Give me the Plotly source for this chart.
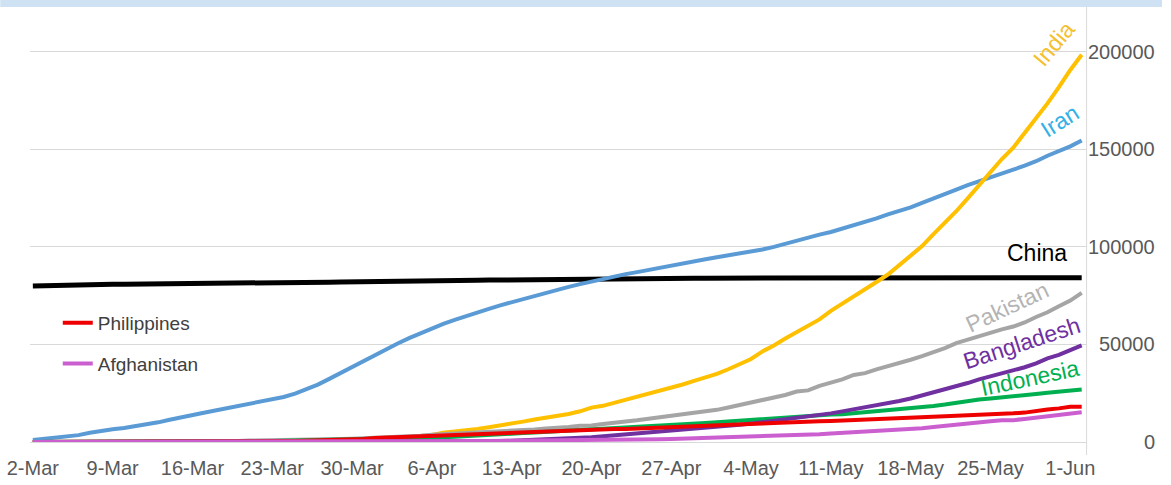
import pandas as pd
import plotly.graph_objects as go

dates = pd.date_range("2020-03-02", "2020-06-02", freq="D")

iran = [978, 1501, 2336, 2922, 3513, 4747, 5823, 6566, 7161, 8042, 9000, 10075, 11364, 12729, 13938, 14991,
        16169, 17361, 18407, 19644, 20610, 21638, 23049, 24811, 27017, 29406, 32332, 35408, 38309, 41495,
        44605, 47593, 50468, 53183, 55743, 58226, 60500, 62589, 64586, 66220, 68192, 70029, 71686, 73303,
        74877, 76389, 77995, 79494, 80868, 82211, 83505, 84802, 85996, 87026, 88194, 89328, 90481, 91472,
        92584, 93657,
        94640, 95646, 96448, 97424, 98647, 99970, 101650, 103135, 104691, 106220, 107603, 109286, 110767,
        112725, 114533, 116635, 118392, 120198, 122492, 124603, 126949, 129341, 131652, 133521, 135701,
        137724, 139511, 141591, 143849, 146668, 148950,
        151466, 154445]

india = [3, 5, 5, 28, 30, 31, 34, 39, 43, 56, 62, 73, 82, 102, 113, 119, 142, 156, 194, 244, 330, 396, 499,
         536, 657, 727, 887, 987, 1024, 1251,
         1397, 1998, 2543, 2567, 3082, 3588, 4778, 5311, 5916, 6725, 7598, 8446, 9205, 10453, 11487, 12322,
         13430, 14352, 15722, 17615, 18539, 20080, 21370, 23077, 24530, 26283, 27890, 29451, 31324, 33062,
         34863, 37257, 39699, 42505, 46437, 49400, 52987, 56351, 59695, 62808, 67161, 70768, 74292, 78055,
         81997, 85784, 90648, 95698, 100328, 106475, 112028, 118226, 124794, 131423, 138536, 144950, 150793,
         158086, 165386, 173491, 181827,
         190609, 198370]

china = [79932, 80136, 80261, 80386, 80537, 80690, 80770, 80823, 80860, 80887, 80921, 80932, 80945, 80977,
         81003, 81033, 81058, 81102, 81156, 81250, 81305, 81435, 81498, 81591, 81661, 81782, 81897, 81999,
         82122, 82198,
         82279, 82361, 82432, 82511, 82543, 82602, 82665, 82718, 82809, 82883, 82941, 83014, 83134, 83213,
         83306, 83356, 83403, 83760, 83787, 83805, 83817, 83853, 83868, 83884, 83899, 83909, 83912, 83918,
         83940, 83944,
         83956, 83959, 83959, 83964, 83966, 83968, 83970, 83975, 83976, 83990, 84010, 84011, 84018, 84024,
         84029, 84038, 84044, 84054, 84063, 84063, 84065, 84076, 84081, 84084, 84095, 84102, 84103, 84106,
         84106, 84123, 84128,
         84146, 84154]

pakistan = [4, 5, 5, 5, 6, 6, 6, 6, 16, 19, 20, 28, 31, 53, 136, 236, 299, 454, 501, 730, 776, 875, 972,
            1063, 1201, 1373, 1495, 1597, 1717, 1938,
            2118, 2421, 2686, 2818, 3157, 3766, 4035, 4263, 4489, 4695, 4934, 5230, 5496, 5837, 6383, 6919,
            7025, 7638, 8348, 8418, 9216, 9749, 10513, 11155, 11940, 12657, 13328, 13915, 14612, 15525,
            16473, 17699, 18926, 20084, 21501, 22550, 24073, 25837, 26435, 28736, 30334, 32081, 34336, 35298,
            37218, 38799, 40151, 42125, 43966, 45898, 48091, 50694, 52437, 54601, 56349, 57705, 59151, 61227,
            64028, 66457, 69496,
            72460, 76398]

bangladesh = [0, 0, 0, 0, 0, 0, 0, 3, 3, 3, 3, 3, 3, 3, 5, 8, 10, 14, 17, 20, 24, 27, 33, 39, 39, 44, 48, 48,
              48, 49,
              51, 54, 56, 61, 70, 88, 123, 164, 218, 330, 424, 482, 621, 803, 1012, 1231, 1572, 1838, 2144,
              2456, 2948, 3382, 3772, 4186, 4689, 4998, 5416, 5913, 6462, 7103,
              7667, 8238, 8790, 9455, 10143, 10929, 11719, 12425, 13134, 13770, 14657, 15691, 16660, 17822,
              18863, 20065, 20995, 22268, 23870, 25121, 26738, 28511, 30205, 32078, 33610, 35585, 36751, 38292,
              40321, 42844, 44608,
              47153, 49534]

indonesia = [0, 2, 2, 2, 2, 4, 4, 6, 19, 27, 34, 34, 69, 96, 117, 134, 172, 227, 311, 369, 450, 514, 579, 686,
             790, 893, 1046, 1155, 1285, 1414,
             1528, 1677, 1790, 1986, 2092, 2273, 2491, 2738, 2956, 3293, 3512, 3842, 4241, 4557, 4839, 5136,
             5516, 5923, 6248, 6575, 6760, 7135, 7418, 7775, 8211, 8607, 8882, 9096, 9511, 9771,
             10118, 10551, 10843, 11192, 11587, 12071, 12438, 12776, 13112, 13645, 14032, 14265, 14749, 15438,
             16006, 16496, 17025, 17514, 18010, 18496, 19189, 20162, 20796, 21745, 22271, 22750, 23165, 23851,
             24538, 25216, 25773,
             26473, 26940]

philippines = [3, 3, 3, 3, 3, 5, 6, 10, 20, 33, 49, 52, 64, 111, 140, 142, 187, 202, 217, 230, 307, 380, 462,
               552, 636, 707, 803, 1075, 1418, 1546,
               2084, 2311, 2633, 3018, 3094, 3246, 3660, 3764, 3870, 4076, 4195, 4428, 4648, 4932, 5223, 5453,
               5660, 5878, 6087, 6259, 6459, 6599, 6710, 6981, 7192, 7294, 7579, 7777, 7958, 8212,
               8488, 8772, 8928, 9223, 9485, 9684, 10004, 10343, 10463, 10610, 10794, 11086, 11350, 11618,
               11876, 12091, 12305, 12513, 12718, 12942, 13221, 13434, 13597, 13777, 14035, 14319, 14669,
               15049, 15588, 16634, 17224,
               18086, 18086]

afghanistan = [1, 1, 1, 1, 1, 1, 1, 4, 4, 5, 7, 7, 7, 11, 16, 21, 22, 22, 22, 24, 24, 40, 40, 74, 84, 94,
               110, 110, 120, 170,
               174, 237, 273, 281, 299, 349, 367, 423, 444, 484, 521, 555, 607, 665, 714, 784, 840, 906, 933,
               996, 1026, 1092, 1176, 1279, 1351, 1463, 1531, 1703, 1828, 1939,
               2171, 2335, 2469, 2704, 2894, 3224, 3392, 3563, 3778, 4033, 4402, 4687, 4963, 5226, 5639, 6053,
               6402, 6664, 7072, 7653, 8145, 8676, 9216, 9998, 10582, 11173, 11180, 11831, 12456, 13036, 13659,
               14525, 15205]

tick_dates = pd.date_range("2020-03-02", "2020-06-01", freq="7D")
y_ticks = [0, 50000, 100000, 150000, 200000]

# series: name, values, line colour, width, in legend
series = [
    ("China", china, "#000000", 5, False),
    ("Iran", iran, "#5b9bd5", 4, False),
    ("India", india, "#ffc000", 4, False),
    ("Pakistan", pakistan, "#a5a5a5", 4, False),
    ("Indonesia", indonesia, "#00b050", 4, False),
    ("Bangladesh", bangladesh, "#7030a0", 4, False),
    ("Philippines", philippines, "#ee0000", 4, True),
    ("Afghanistan", afghanistan, "#cc5fd0", 4, True),
]

# end-of-line labels: text, x (date), y (value), colour, angle
labels = [
    ("India", "2020-05-30 13:00", 203900, "#f5c030", -50),
    ("Iran", "2020-05-31 02:00", 164500, "#33b0e6", -32),
    ("China", "2020-05-29 02:00", 96800, "#000000", 0),
    ("Pakistan", "2020-05-26 11:00", 69200, "#b4b4b4", -25),
    ("Bangladesh", "2020-05-27 18:00", 50700, "#7030a0", -18),
    ("Indonesia", "2020-05-28 11:00", 32800, "#00b050", -12),
]

FONT = "Liberation Sans"
fig = go.Figure()
for name, vals, col, w, inleg in series:
    fig.add_trace(go.Scatter(x=dates, y=vals, mode="lines", name=name,
                             line=dict(color=col, width=w), showlegend=inleg,
                             legendgroup=name))

PW = 1171 - 30  # paper width in px
xr0 = dates[0] - pd.Timedelta(hours=6)
xr1 = dates[0] + pd.Timedelta(days=92.43)
ymax = 222850
xd = (1095 - 30) / PW

fig.update_layout(
    width=1171, height=485,
    margin=dict(l=30, r=0, t=7, b=43),
    paper_bgcolor="white", plot_bgcolor="white",
    font=dict(family=FONT, size=20, color="#595959"),
    xaxis=dict(domain=[0, xd], range=[xr0, xr1], tickvals=tick_dates, tickformat="%-d-%b",
               showgrid=False, zeroline=False, showline=False, ticks="",
               ticklabelstandoff=12,
               tickfont=dict(size=20, color="#595959")),
    yaxis=dict(range=[0, ymax], side="right", tickvals=y_ticks, showticklabels=False,
               showgrid=True, gridcolor="#d9d9d9", gridwidth=1, zeroline=True,
               zerolinecolor="#d9d9d9", zerolinewidth=1, ticks=""),
    legend=dict(x=(58 - 30) / PW, y=(442 - 304) / 435, xanchor="left", yanchor="top",
                bgcolor="rgba(0,0,0,0)", font=dict(size=19, color="#404040"),
                tracegroupgap=13, traceorder="grouped"),
    showlegend=True,
)

# right-hand value labels, right-aligned at the chart edge
for v in y_ticks:
    fig.add_annotation(x=(1166 - 30) / PW, y=v, xref="paper", yref="y", text=f"{v:d}",
                       showarrow=False, xanchor="right", yanchor="middle",
                       font=dict(family=FONT, size=20, color="#595959"))

for text, xv, yv, col, ang in labels:
    fig.add_annotation(x=xv, y=yv, xref="x", yref="y", text=text, showarrow=False,
                       textangle=ang, font=dict(family=FONT, size=23, color=col),
                       xanchor="center", yanchor="middle")

# top band and right axis line
fig.add_shape(type="rect", xref="paper", yref="paper", x0=-30 / PW, x1=1.0,
              y0=1.0, y1=442 / 435 + 0.01, fillcolor="#cfe2f3", line=dict(width=0), layer="below")
fig.add_shape(type="line", xref="paper", yref="paper", x0=xd, x1=xd,
              y0=(442 - 455) / 435, y1=1.0, line=dict(color="#d9d9d9", width=1))

fig.write_html("out.html", config={"displayModeBar": False},
               post_script="document.body.style.margin='0';")
